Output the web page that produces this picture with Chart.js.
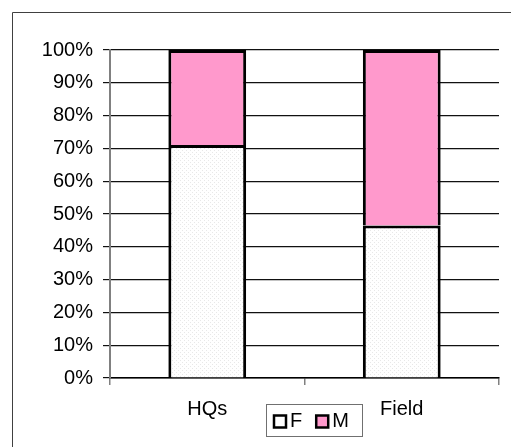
<!DOCTYPE html>
<html>
<head>
<meta charset="utf-8">
<script src="https://cdn.jsdelivr.net/npm/chart.js@4/dist/chart.umd.min.js"></script>
<style>
  html, body { margin: 0; padding: 0; background: #fff; }
  #wrap { width: 511px; height: 447px; position: relative; }
</style>
</head>
<body>
<div id="wrap"><canvas id="c" width="511" height="447"></canvas></div>
<script>
// Share of staff by sex, headquarters vs. field (percent)
const categories = ['HQs', 'Field'];
const seriesNames = ['F', 'M'];
const femaleShare = [71, 46.5];
const maleShare = [29, 53.5];
const yTicks = [0, 10, 20, 30, 40, 50, 60, 70, 80, 90, 100];

const FONT = { family: '"Liberation Sans", Arial, sans-serif', size: 20 };

// light dotted fill used for the F series
function dotPattern() {
  const p = document.createElement('canvas');
  p.width = 4; p.height = 4;
  const g = p.getContext('2d');
  g.fillStyle = '#ffffff';
  g.fillRect(0, 0, 4, 4);
  g.fillStyle = '#e8e8e8';
  g.fillRect(0, 0, 1, 1);
  g.fillRect(2, 2, 1, 1);
  return g.createPattern(p, 'repeat');
}
const fFill = dotPattern();
const mFill = '#ff99cc';

// frame lines around the chart
const framePlugin = {
  id: 'frame',
  afterDraw(chart) {
    const ctx = chart.ctx;
    ctx.save();
    ctx.strokeStyle = '#404040';
    ctx.lineWidth = 1;
    ctx.beginPath();
    ctx.moveTo(12.5, chart.height);
    ctx.lineTo(12.5, 12.5);
    ctx.lineTo(chart.width, 12.5);
    ctx.stroke();
    ctx.restore();
  }
};

// boxed legend under the plot, between the category labels
const boxLegendPlugin = {
  id: 'boxLegend',
  afterDraw(chart) {
    const ctx = chart.ctx;
    const ds = chart.data.datasets;
    const x0 = 266.5, y0 = 404.5, w = 96, h = 32;
    ctx.save();
    ctx.strokeStyle = '#707070';
    ctx.lineWidth = 1;
    ctx.strokeRect(x0, y0, w, h);
    ctx.font = FONT.size + 'px ' + FONT.family;
    ctx.textBaseline = 'middle';
    ctx.textAlign = 'left';
    let x = x0 + 7.5;
    const cy = y0 + h / 2 + 1;
    ds.forEach((d) => {
      const s = 12;
      ctx.fillStyle = d.legendFill;
      ctx.fillRect(x, cy - s / 2, s, s);
      ctx.strokeStyle = '#000';
      ctx.lineWidth = 2.5;
      ctx.strokeRect(x, cy - s / 2, s, s);
      ctx.fillStyle = '#000';
      ctx.fillText(d.label, x + s + 4, cy);
      x += s + 4 + ctx.measureText(d.label).width + 14;
    });
    ctx.restore();
  }
};

new Chart(document.getElementById('c'), {
  type: 'bar',
  data: {
    labels: categories,
    datasets: [
      { label: seriesNames[0], data: femaleShare, backgroundColor: fFill, legendFill: '#ffffff',
        borderColor: '#000', borderWidth: 3 },
      { label: seriesNames[1], data: maleShare, backgroundColor: mFill, legendFill: mFill,
        borderColor: '#000', borderWidth: 3 }
    ]
  },
  options: {
    responsive: false,
    animation: false,
    devicePixelRatio: 1,
    layout: { padding: { left: 0, top: 50, right: 12, bottom: 0 } },
    datasets: { bar: { barPercentage: 0.4, categoryPercentage: 1.0 } },
    plugins: { legend: { display: false }, tooltip: { enabled: false } },
    scales: {
      x: {
        stacked: true,
        afterFit(s) { s.height = 69; },
        grid: { drawOnChartArea: false, drawTicks: true, tickLength: 7, color: '#808080', lineWidth: 1.5 },
        border: { color: '#000', width: 1.5 },
        ticks: { color: '#000', font: FONT, padding: 12 }
      },
      y: {
        stacked: true,
        min: 0,
        max: 100,
        afterFit(s) { s.width = 110; },
        afterBuildTicks(s) { s.ticks = yTicks.map(v => ({ value: v })); },
        grid: { color: '#111', lineWidth: 1.2, drawTicks: true, tickLength: 7 },
        border: { color: '#808080', width: 2 },
        ticks: { color: '#000', font: FONT, padding: 10, callback: v => v + '%' }
      }
    }
  },
  plugins: [framePlugin, boxLegendPlugin]
});
</script>
</body>
</html>
